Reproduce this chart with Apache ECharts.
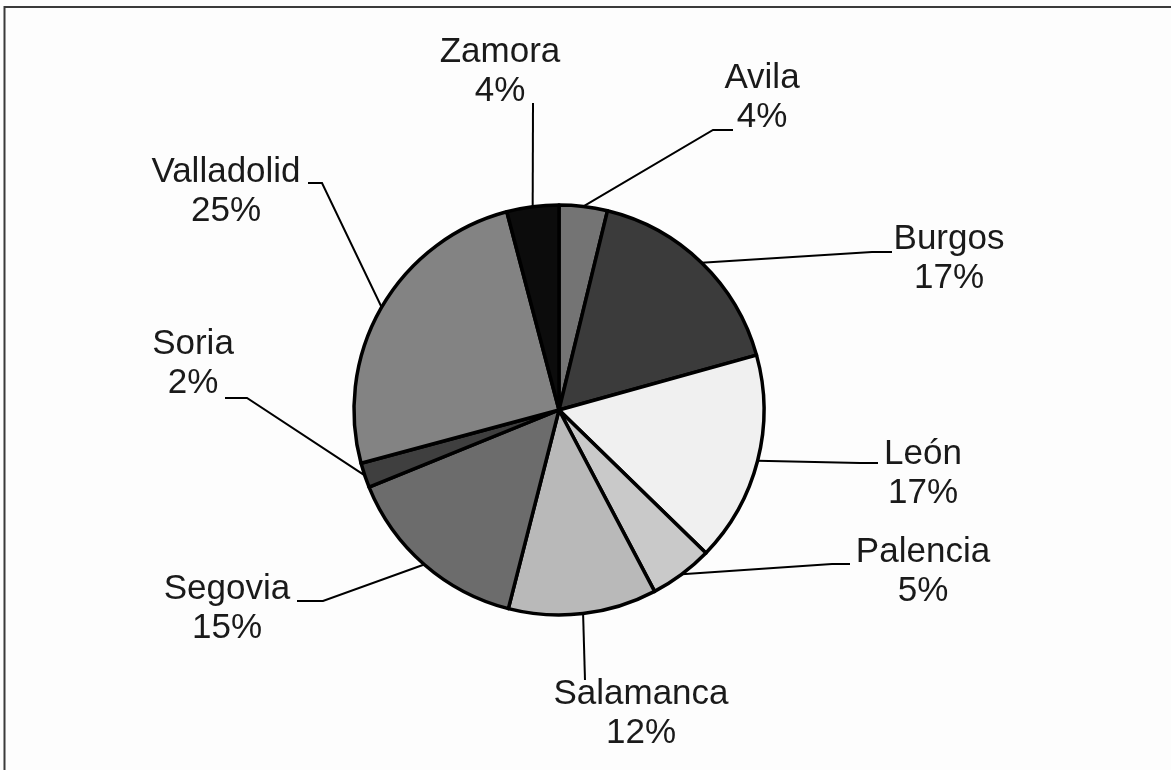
<!DOCTYPE html>
<html>
<head>
<meta charset="utf-8">
<style>
  html, body { margin: 0; padding: 0; background: #fdfdfd; }
  #chart { width: 1171px; height: 770px; }
</style>
<script src="https://cdn.jsdelivr.net/npm/echarts@6/dist/echarts.min.js"></script>
</head>
<body>
<div id="chart"></div>
<script>
// provinces, clockwise from 12 o'clock
var provinces = ['Avila', 'Burgos', 'León', 'Palencia', 'Salamanca', 'Segovia', 'Soria', 'Valladolid', 'Zamora']
// slice sizes
var shares = [3.8, 16.9, 16.6, 5.0, 11.7, 14.9, 1.95, 25.1, 4.1]
// percentages printed on the labels
var shownPct = [4, 17, 17, 5, 12, 15, 2, 25, 4]
var greys = ['#747474', '#3b3b3b', '#f0f0f0', '#c9c9c9', '#b9b9b9', '#6c6c6c', '#3f3f3f', '#838383', '#0c0c0c']

// where each callout sits: label centre x, label top y, elbow and end of leader line
var callouts = [
    { x: 762, y: 59, elbow: [713, 130], end: [733, 130] },
    { x: 949, y: 220, elbow: [872, 252], end: [892, 252] },
    { x: 923, y: 435, elbow: [860, 463], end: [878, 463] },
    { x: 923, y: 533, elbow: [832, 564], end: [850, 564] },
    { x: 641, y: 675, elbow: [585, 680], end: [585, 680] },
    { x: 227, y: 570, elbow: [323, 601], end: [297, 601] },
    { x: 193, y: 325, elbow: [247, 398], end: [225, 398] },
    { x: 226, y: 153, elbow: [322, 183], end: [308, 183] },
    { x: 500, y: 33, elbow: [533, 103], end: [533, 103] }
]

var chart = echarts.init(document.getElementById('chart'))

var option = {
    animation: false,
    backgroundColor: '#fdfdfd',
    graphic: [{
        type: 'polyline',
        shape: { points: [[4.5, 790], [4.5, 7], [1200, 7]] },
        style: { stroke: '#3a3a3a', lineWidth: 2, fill: null },
        silent: true
    }],
    series: [{
        type: 'pie',
        center: [559, 410],
        radius: 205,
        startAngle: 90,
        clockwise: true,
        avoidLabelOverlap: false,
        data: provinces.map(function (name, i) {
            return { name: name, value: shares[i], itemStyle: { color: greys[i] } }
        }),
        itemStyle: { borderColor: '#000', borderWidth: 3.5 },
        label: {
            show: true,
            position: 'outside',
            fontFamily: 'Liberation Sans, Arial, sans-serif',
            fontSize: 35,
            lineHeight: 39,
            color: '#1a1a1a',
            align: 'center',
            formatter: function (p) {
                return p.name + '\n' + shownPct[p.dataIndex] + '%'
            }
        },
        labelLine: {
            show: true,
            length: 10,
            length2: 10,
            lineStyle: { color: '#000', width: 2 }
        },
        labelLayout: function (params) {
            var c = callouts[params.dataIndex]
            var start = params.labelLinePoints ? params.labelLinePoints[0] : c.elbow
            return {
                x: c.x,
                y: c.y,
                align: 'center',
                verticalAlign: 'top',
                labelLinePoints: [start, c.elbow, c.end]
            }
        },
        emphasis: { disabled: true }
    }]
}

chart.setOption(option)
</script>
</body>
</html>
